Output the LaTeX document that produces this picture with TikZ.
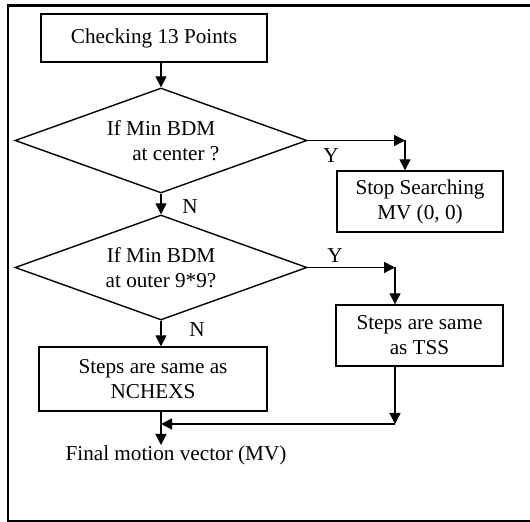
\documentclass[tikz,border=0pt]{standalone}
\usepackage{fontspec}
\setmainfont{Liberation Serif}
\usetikzlibrary{shapes.geometric,arrows.meta}
\begin{document}
\begin{tikzpicture}[x=0.5pt,y=-0.5pt,
  every node/.style={font=\fontsize{10.6}{12.5}\selectfont},
  procbox/.style={draw,line width=0.7pt,align=center,inner sep=0pt},
  decision/.style={draw,line width=0.7pt,diamond,aspect=2.8,inner sep=0pt,
    minimum width=146pt,minimum height=52.5pt,align=center},
  flow/.style={line width=0.7pt,-{Triangle[length=5.5pt,width=5.5pt]}},
  plain/.style={line width=0.7pt}]
\useasboundingbox (0,0) rectangle (530,522);
\draw[line width=1.1pt] (8,5.5) rectangle (534,521);
% boxes
\node[procbox,minimum width=113pt,minimum height=24pt] (check) at (154,38) {Checking 13 Points};
\node[decision] (d1) at (161,140.5) {If Min BDM\\\hspace*{1.4em}at center ?};
\node[procbox,minimum width=83pt,minimum height=30.5pt] (stop) at (420,201.5) {Stop Searching\\MV (0, 0)};
\node[decision] (d2) at (161,267.5) {If Min BDM\\at outer 9*9?};
\node[procbox,minimum width=83.5pt,minimum height=30.5pt] (tss) at (419.5,335.5) {Steps are same\\as TSS};
\node[procbox,minimum width=114pt,minimum height=32pt] (nchexs) at (153,379) {Steps are same as\\NCHEXS};
\node[inner sep=0pt,anchor=north] (final) at (176,445) {Final motion vector (MV)};
% coordinates
\coordinate (c1) at (405,140.5);
\coordinate (c2) at (395,267.5);
\coordinate (c3) at (395,424);
\coordinate (j) at (161,424);
% connectors
\draw[flow] (check.south -| d1.north) -- (d1.north);
\draw[flow] (d1.east) -- (c1);
\draw[flow] (c1) -- (c1 |- stop.north);
\draw[flow] (d1.south) -- (d2.north);
\draw[flow] (d2.east) -- (c2);
\draw[flow] (c2) -- (c2 |- tss.north);
\draw[flow] (d2.south) -- (d2.south |- nchexs.north);
\draw[flow] (c3 |- tss.south) -- (c3);
\draw[flow] (c3) -- (j);
\draw[flow] (d2.south |- nchexs.south) -- (d2.south |- final.north);
% labels
\node at (331,156) {Y};
\node at (190,207) {N};
\node at (335,256) {Y};
\node at (197,330) {N};
\end{tikzpicture}
\end{document}
